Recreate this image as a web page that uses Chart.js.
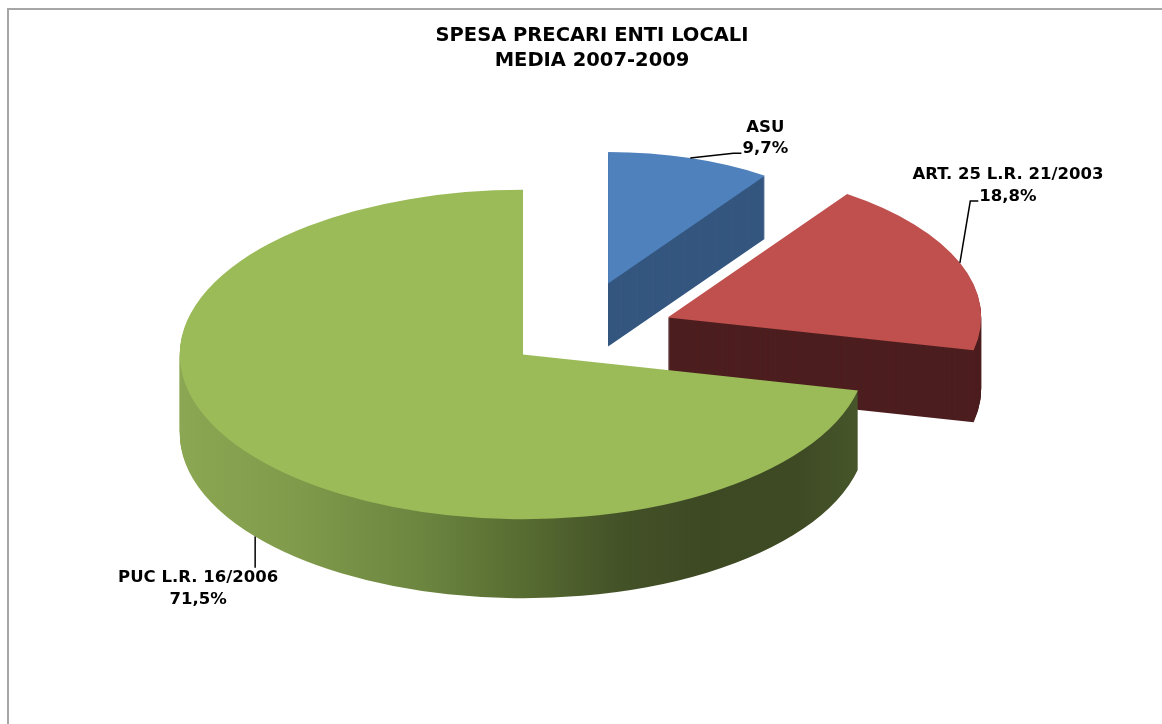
<!DOCTYPE html>
<html>
<head>
<meta charset="utf-8">
<title>Spesa precari enti locali</title>
<script src="https://cdn.jsdelivr.net/npm/chart.js@4.4.1/dist/chart.umd.min.js"></script>
<style>
  html, body { margin: 0; padding: 0; background: #fff; }
  #chart { display: block; }
</style>
</head>
<body>
<canvas id="chart" width="1162" height="724"></canvas>
<script>
// data
const categories = ['ASU', 'ART. 25 L.R. 21/2003', 'PUC L.R. 16/2006'];
const shares = [9.7, 18.8, 71.5];
const titleLines = ['SPESA PRECARI ENTI LOCALI', 'MEDIA 2007-2009'];

// look
const topColors = ['#4F81BD', '#C0504D', '#9BBB59'];
const sideColors = ['#34567F', '#4D1E1F', null]; // null -> shaded side
const shadedSide = [[0, '#8CA753'], [0.175, '#7F9A4A'], [0.35, '#6C8640'], [0.5, '#576C31'],
                    [0.64, '#445228'], [0.76, '#3D4923'], [0.9, '#3E4A24'], [1, '#48572B']];
const FONT = '"DejaVu Sans", Verdana, sans-serif';

// fake 3d: squash, extrude, pull slices apart
const pie3d = {
  tilt: 0.48,
  depth: 76,
  explode: [112, 100, 66],
  scale: [0.83, 0.95, 1.04],  // back slices a bit smaller
  shiftX: -17.5
};

// where each label block sits relative to its slice anchor
const labelPlacement = [{ dx: 75, dy: -20 }, { dx: 48, dy: -77 }, { dx: -57, dy: 52 }];
const lineGap = 21.5;

function sliceGeometry(chart) {
  const arcs = chart.getDatasetMeta(0).data;
  const cx = arcs[0].x, cy = arcs[0].y;
  return arcs.map((arc, i) => {
    const mid = (arc.startAngle + arc.endAngle) / 2;
    const s = pie3d.scale[i];
    const r = arc.outerRadius * s;
    return {
      arc, i, mid, s, cx, cy, r,
      ry: r * pie3d.tilt,
      vx: cx + pie3d.shiftX + Math.cos(mid) * pie3d.explode[i],
      vy: cy + Math.sin(mid) * pie3d.explode[i] * pie3d.tilt,
      depth: pie3d.depth * s
    };
  });
}

function sideFill(ctx, sl) {
  if (sideColors[sl.i]) return sideColors[sl.i];
  const R = sl.arc.outerRadius;
  const g = ctx.createLinearGradient(sl.cx - R, 0, sl.cx + R, 0);
  shadedSide.forEach(([p, c]) => g.addColorStop(p, c));
  return g;
}

const framePlugin = {
  id: 'frame',
  beforeDraw(chart) {
    const ctx = chart.ctx;
    ctx.save();
    ctx.strokeStyle = '#A6A6A6';
    ctx.lineWidth = 2;
    ctx.beginPath();
    ctx.moveTo(8, chart.height);
    ctx.lineTo(8, 9);
    ctx.lineTo(chart.width, 9);
    ctx.stroke();
    ctx.restore();
  }
};

const extrudePlugin = {
  id: 'extrude',
  beforeDatasetsDraw(chart) {
    const ctx = chart.ctx;
    const slices = sliceGeometry(chart);
    chart.$slices = slices;
    // back to front
    slices.slice().sort((a, b) => a.vy - b.vy).forEach(sl => {
      const arc = sl.arc;
      const face = arc.options;
      const drawAt = dy => {
        ctx.save();
        ctx.translate(sl.vx, sl.vy + dy);
        ctx.scale(sl.s, sl.s * pie3d.tilt);
        ctx.translate(-sl.cx, -sl.cy);
        arc.draw(ctx);
        ctx.restore();
      };
      arc.options = Object.assign({}, face, { backgroundColor: sideFill(ctx, sl) });
      for (let d = Math.round(sl.depth); d > 0; d--) drawAt(d);
      arc.options = face;
      drawAt(0);
    });
    return false;
  }
};

const labelPlugin = {
  id: 'sliceLabels',
  afterDraw(chart) {
    const slices = chart.$slices;
    if (!slices) return;
    const ctx = chart.ctx;
    const total = shares.reduce((a, b) => a + b, 0);
    ctx.save();
    ctx.font = 'bold 16.5px ' + FONT;
    ctx.fillStyle = '#000';
    ctx.strokeStyle = '#000';
    ctx.lineWidth = 1.5;
    ctx.textAlign = 'center';
    ctx.textBaseline = 'middle';
    slices.forEach(sl => {
      const front = Math.sin(sl.mid) > 0;
      const ax = sl.vx + Math.cos(sl.mid) * sl.r;
      const ay = sl.vy + Math.sin(sl.mid) * sl.ry + (front ? sl.depth : 0);
      const place = labelPlacement[sl.i];
      const bx = ax + place.dx, by = ay + place.dy;
      const pct = (shares[sl.i] / total * 100).toFixed(1).replace('.', ',') + '%';
      const y1 = by - lineGap / 2, y2 = by + lineGap / 2;
      ctx.fillText(categories[sl.i], bx, y1);
      ctx.fillText(pct, bx, y2);
      ctx.beginPath();
      ctx.moveTo(ax, ay);
      if (front) {
        ctx.lineTo(ax, y1 - 10);
      } else {
        const left = bx - ctx.measureText(pct).width / 2 - 1;
        ctx.lineTo(left - 8, y2 + 4.5);
        ctx.lineTo(left, y2 + 4.5);
      }
      ctx.stroke();
    });
    ctx.restore();
  }
};

new Chart(document.getElementById('chart'), {
  type: 'pie',
  data: {
    labels: categories,
    datasets: [{
      data: shares,
      backgroundColor: topColors,
      borderWidth: 0
    }]
  },
  options: {
    responsive: false,
    animation: false,
    events: [],
    radius: 330,
    layout: { padding: { left: 22, right: 0, top: 0, bottom: 128 } },
    plugins: {
      legend: { display: false },
      tooltip: { enabled: false },
      title: {
        display: true,
        text: titleLines,
        color: '#000',
        font: { family: FONT, size: 19.5, weight: 'bold', lineHeight: 1.27 },
        padding: { top: 24, bottom: 0 }
      }
    }
  },
  plugins: [framePlugin, extrudePlugin, labelPlugin]
});
</script>
</body>
</html>
